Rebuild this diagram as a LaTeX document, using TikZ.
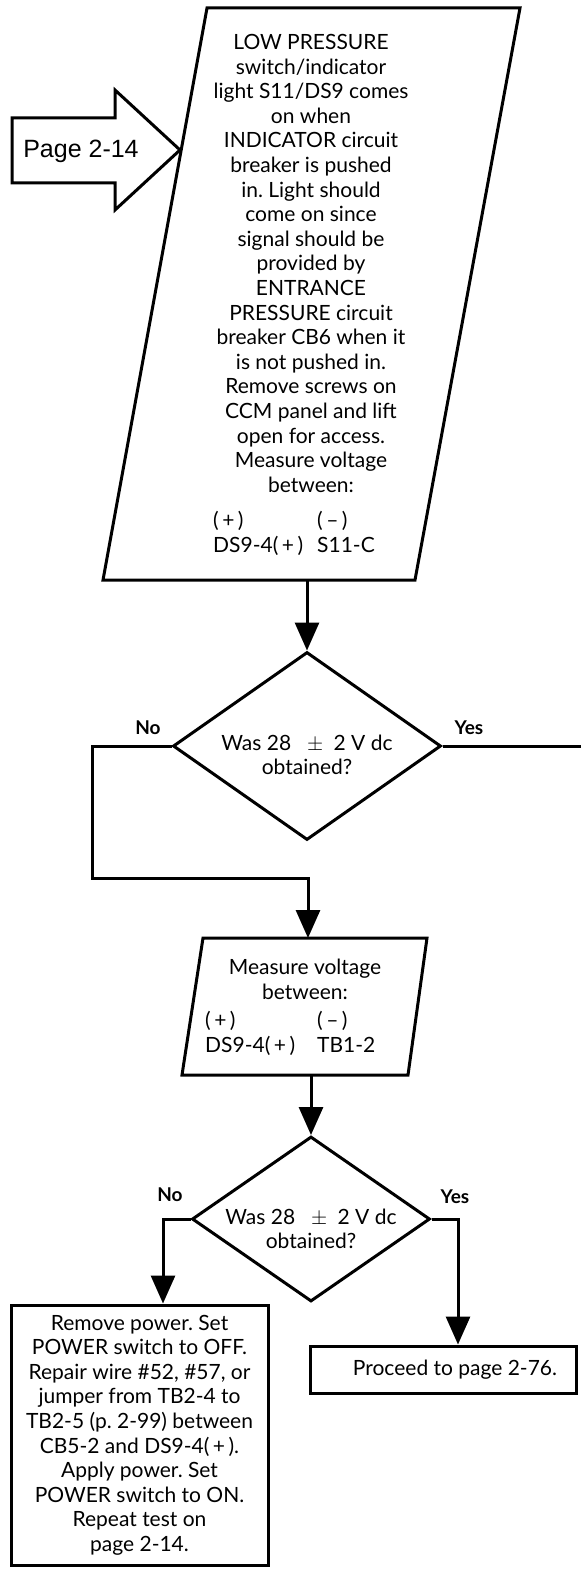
\documentclass[tikz,border=0pt]{standalone}
\usepackage{fontspec}
\setmainfont{Lato}
\newfontfamily\pagefont{Liberation Sans}
\usetikzlibrary{shapes.geometric,arrows.meta}
\frenchspacing

\begin{document}
\begin{tikzpicture}[x=1pt,y=-1pt,
    flow/.style={line width=3pt},
    arr/.style={line width=3pt,-{Triangle[width=24pt,length=28pt]}},
    txt/.style={align=center,inner sep=0pt,font=\fontsize{21}{24.6}\selectfont},
    decision/.style={diamond,draw,line width=3pt,inner sep=0pt},
    answer/.style={inner sep=0pt,font=\bfseries\fontsize{19}{22}\selectfont}]
    \useasboundingbox (0,0) rectangle (581,1581);

    %entry arrow
    \draw[flow] (12,118) -- (115,118) -- (115,90) -- (180,150) -- (115,210) -- (115,183) -- (12,183) -- cycle;
    \node[inner sep=0pt, font=\pagefont\fontsize{25}{30}\selectfont] (entry) at (81,151) {Page 2-14};

    %first measurement
    \draw[flow] (207,8) -- (520,8) -- (415,580) -- (103,580) -- cycle;
    \node[txt, anchor=north] (check1) at (311,34) {LOW PRESSURE\\ switch/indicator\\ light S11/DS9 comes\\ on when\\ INDICATOR circuit\\ breaker is pushed\\ in. Light should\\ come on since\\ signal should be\\ provided by\\ ENTRANCE\\ PRESSURE circuit\\ breaker CB6 when it\\ is not pushed in.\\ Remove screws on\\ CCM panel and lift\\ open for access.\\ Measure voltage\\ between:};
    \node[txt, align=left, anchor=north west] (probes1) at (213,511) {\makebox[104pt][l]{(\,+\,)}(\,--\,)\\ \makebox[104pt][l]{DS9-4(\,+\,)}S11-C};
    \coordinate (check1 out) at (307,580);

    %first decision
    \node[decision, minimum width=268pt, minimum height=188pt] (dec1) at (307,746) {};
    \node[txt] (ask1) at (307,755) {Was 28 \enspace$\pm$\enspace 2 V dc\\ obtained?};
    \node[answer] (no1) at (148,728) {No};
    \node[answer] (yes1) at (469,728) {Yes};
    \coordinate (loop) at (92,878);
    \coordinate (exit1) at (581,746);

    %second measurement
    \draw[flow] (203,938) -- (427,938) -- (408,1075) -- (182,1075) -- cycle;
    \node[txt, anchor=north] (check2) at (305,959) {Measure voltage\\ between:};
    \node[txt, align=left, anchor=north west] (probes2) at (205,1011) {\makebox[112pt][l]{(\,+\,)}(\,--\,)\\ \makebox[112pt][l]{DS9-4(\,+\,)}TB1-2};
    \coordinate (check2 in) at (308,938);
    \coordinate (check2 out) at (311,1075);

    %second decision
    \node[decision, minimum width=238pt, minimum height=165pt] (dec2) at (311,1219) {};
    \node[txt] (ask2) at (311,1229) {Was 28 \enspace$\pm$\enspace 2 V dc\\ obtained?};
    \node[answer] (no2) at (170,1195) {No};
    \node[answer] (yes2) at (455,1197) {Yes};

    %results
    \node[draw, line width=3pt, txt, minimum width=257pt, minimum height=260pt] (repair) at (139.5,1435) {Remove power. Set\\ POWER switch to OFF.\\ Repair wire \#52, \#57, or\\ jumper from TB2-4 to\\ TB2-5 (p. 2-99) between\\ CB5-2 and DS9-4(\,+\,).\\ Apply power. Set\\ POWER switch to ON.\\ Repeat test on\\ page 2-14.};
    \node[draw, line width=3pt, txt, minimum width=266pt, minimum height=47pt] (proceed) at (443,1369.5) {\hspace*{24pt}Proceed to page 2-76.};

    %connectors
    \draw[arr] (check1 out) -- (dec1.north);
    \draw[arr] (dec1.west) -| (loop) -| (check2 in);
    \draw[flow] (dec1.east) -- (exit1);
    \draw[arr] (check2 out) -- (dec2.north);
    \draw[arr] (dec2.west) -| ([xshift=23.5pt]repair.north);
    \draw[arr] (dec2.east) -| ([xshift=15pt]proceed.north);

\end{tikzpicture}
\end{document}
